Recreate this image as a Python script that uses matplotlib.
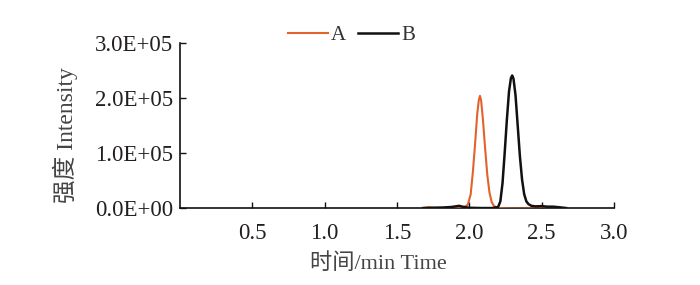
import matplotlib
matplotlib.use("Agg")
import matplotlib.pyplot as plt
from matplotlib.ticker import FuncFormatter

# trace A (orange)
time_a = [1.68, 1.72, 1.76, 1.82, 1.88, 1.93, 1.97, 1.99, 2.01, 2.025, 2.04,
          2.055, 2.066, 2.074, 2.082, 2.095, 2.11, 2.125, 2.14, 2.155, 2.17,
          2.19, 2.22, 2.30, 2.40, 2.50, 2.60, 2.67]
int_a = [0, 1500, 500, 0, 500, 1500, 2500, 6000, 25000, 65000, 115000,
         170000, 196000, 204000, 196000, 160000, 108000, 60000, 28000, 11000, 4000,
         1000, -500, -1000, -1000, -500, -1000, -1000]

# trace B (black)
time_b = [1.68, 1.75, 1.82, 1.88, 1.93, 1.96, 2.00, 2.08, 2.16, 2.20, 2.215,
          2.23, 2.245, 2.26, 2.275, 2.288, 2.297, 2.306, 2.32, 2.335, 2.35,
          2.365, 2.38, 2.395, 2.41, 2.43, 2.46, 2.50, 2.54, 2.58, 2.62, 2.67]
int_b = [0, 500, 1000, 2000, 4000, 2000, 500, 0, 0, 2000, 12000,
         45000, 100000, 160000, 212000, 236000, 241000, 235000, 205000, 150000, 95000,
         52000, 25000, 12000, 7000, 4000, 3000, 3500, 2500, 2500, 1500, 0]

xticks = [0.5, 1.0, 1.5, 2.0, 2.5, 3.0]
yticks = [0, 1e5, 2e5, 3e5]

plt.rcParams['font.family'] = ['Liberation Serif', 'Noto Sans CJK SC']

text_color = '#231f20'
fig = plt.figure(figsize=(7, 2.85), dpi=100)
ax = fig.add_axes([0.257, 0.270, 0.620, 0.579])

ax.plot(time_a, int_a, color='#e2622c', lw=1.5, label='A', zorder=3)
ax.plot(time_b, int_b, color='#111111', lw=1.8, label='B', zorder=4)

ax.set_xlim(0, 3.0)
ax.set_ylim(0, 3e5)
ax.set_xticks(xticks)
ax.set_yticks(yticks)
ax.yaxis.set_major_formatter(FuncFormatter(lambda v, p: '{:.1E}'.format(v)))
ax.xaxis.set_major_formatter(FuncFormatter(lambda v, p: '{:.1f}'.format(v)))

for side in ['top', 'right']:
    ax.spines[side].set_visible(False)
for side in ['left', 'bottom']:
    ax.spines[side].set_linewidth(1.2)
    ax.spines[side].set_color('#111111')

ax.tick_params(direction='in', length=4, width=1.0, colors='#111111',
               labelcolor=text_color, labelsize=16.5)
ax.tick_params(axis='x', pad=10.5)
ax.tick_params(axis='y', pad=5)

fig.text(0.093, 0.525, '强度 Intensity', rotation=90, ha='center', va='center',
         fontsize=17, color='#444444')
fig.text(0.54, 0.074, '时间/min Time', ha='center', va='center',
         fontsize=16, color='#444444')

fig.legend(loc='center', bbox_to_anchor=(0.502, 0.877), ncol=2, frameon=False,
           fontsize=15, handlelength=1.9, handletextpad=0.15, columnspacing=0.6,
           borderpad=0, labelcolor='#333333')

fig.savefig('out.png', dpi=100)
